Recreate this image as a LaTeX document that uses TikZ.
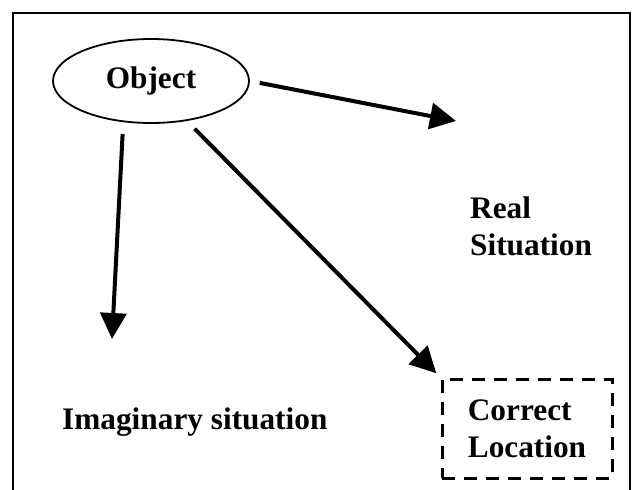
\documentclass[tikz,border=0pt]{standalone}
\usepackage{fontspec}
\setmainfont{Liberation Serif}
\usetikzlibrary{arrows.meta, positioning, shapes.geometric}

\begin{document}
\begin{tikzpicture}[
      x=1pt, y=-1pt,
      font=\fontsize{31.3}{37}\selectfont\bfseries,
      objnode/.style={ellipse, draw, line width=1.8pt, inner sep=0pt,
                      minimum width=196pt, minimum height=84pt},
      lbl/.style={inner sep=0pt, align=left},
      corrbox/.style={draw, line width=3pt, dash pattern=on 13pt off 9pt,
                      minimum width=170pt, minimum height=99pt, inner sep=0pt, align=left},
      ar/.style={-{Triangle[length=26pt,width=26pt]}, line width=4pt},
    ]
    \useasboundingbox (0,0) rectangle (632,490);

    % ---------------- frame
    \draw[line width=2pt] (629.5,490) -- (629.5,13) -- (13,13) -- (13,490);

    % ---------------- nodes
    \node[objnode] (obj) at (151,81) {Object};
    \node[lbl, anchor=west] (real) at (470,226) {Real\\Situation};
    \node[lbl, anchor=base west] (imag) at (62,429) {Imaginary situation};
    \node[corrbox] (corr) at (527,428.5) {Correct\\Location};

    % ---------------- arrow ends
    \coordinate (realtip) at (456,121);
    \coordinate (imagtip) at (112,339);

    % ---------------- arrows
    \draw[ar, shorten <=10pt] (obj.east) -- (realtip);
    \draw[ar, shorten <=12pt] (obj.236) -- (imagtip);
    \draw[ar, shorten <=11pt, shorten >=6pt] (obj.312) -- (corr.north west);
  \end{tikzpicture}
\end{document}
